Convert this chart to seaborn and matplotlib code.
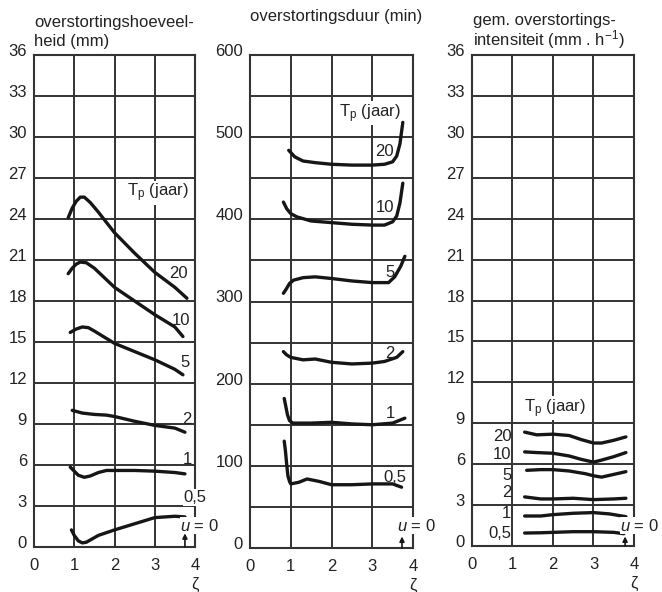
import numpy as np
import pandas as pd
import matplotlib
matplotlib.use("Agg")
import matplotlib.pyplot as plt
import matplotlib.transforms as mtransforms
import seaborn as sns

sns.set_theme(style="white")
plt.rcParams["font.family"] = ["Liberation Sans", "DejaVu Sans"]
plt.rcParams["mathtext.fontset"] = "custom"
plt.rcParams["mathtext.rm"] = "Liberation Sans"
plt.rcParams["mathtext.it"] = "Liberation Sans:italic"

# ---- overstortingshoeveelheid (mm) versus zeta, per herhalingstijd T_p ----
vol_zeta_20 = [0.85, 0.95, 1.05, 1.15, 1.25, 1.4, 1.6, 2.0, 2.5, 3.0, 3.5, 3.8]
vol_mm_20 = [24.1, 24.8, 25.3, 25.6, 25.6, 25.2, 24.5, 23.0, 21.5, 20.1, 19.0, 18.2]
vol_zeta_10 = [0.85, 0.95, 1.05, 1.15, 1.3, 1.5, 2.0, 2.5, 3.0, 3.5, 3.7]
vol_mm_10 = [20.0, 20.4, 20.7, 20.85, 20.8, 20.4, 19.0, 18.0, 17.0, 16.1, 15.4]
vol_zeta_5 = [0.9, 1.05, 1.2, 1.35, 1.5, 2.0, 2.5, 3.0, 3.5, 3.7]
vol_mm_5 = [15.7, 15.95, 16.1, 16.05, 15.8, 14.9, 14.3, 13.7, 13.0, 12.6]
vol_zeta_2 = [0.95, 1.2, 1.5, 1.8, 2.0, 2.5, 3.0, 3.5, 3.75]
vol_mm_2 = [10.0, 9.8, 9.7, 9.65, 9.55, 9.2, 8.9, 8.7, 8.4]
vol_zeta_1 = [0.9, 1.0, 1.1, 1.25, 1.4, 1.6, 1.8, 2.5, 3.0, 3.5, 3.75]
vol_mm_1 = [5.85, 5.55, 5.25, 5.1, 5.2, 5.45, 5.6, 5.6, 5.55, 5.45, 5.35]
vol_zeta_05 = [0.93, 1.0, 1.1, 1.2, 1.3, 1.45, 1.6, 2.0, 2.5, 3.0, 3.5, 3.75]
vol_mm_05 = [1.25, 0.85, 0.45, 0.3, 0.35, 0.6, 0.85, 1.25, 1.7, 2.15, 2.25, 2.2]

# ---- overstortingsduur (min) ----
dur_zeta_20 = [0.95, 1.1, 1.3, 1.6, 2.0, 2.5, 3.0, 3.3, 3.5, 3.6, 3.68, 3.75]
dur_min_20 = [484, 476, 471, 469, 467, 466, 466, 467, 470, 477, 492, 518]
dur_zeta_10 = [0.82, 0.9, 1.0, 1.15, 1.5, 2.0, 2.5, 3.0, 3.3, 3.5, 3.6, 3.68, 3.75]
dur_min_10 = [421, 413, 407, 403, 398, 396, 394, 393, 393, 397, 404, 420, 444]
dur_zeta_5 = [0.82, 0.9, 0.97, 1.07, 1.3, 1.6, 2.0, 2.5, 3.0, 3.4, 3.55, 3.7, 3.8]
dur_min_5 = [310, 316, 322, 326, 329, 330, 328, 325, 323, 323, 330, 343, 355]
dur_zeta_2 = [0.82, 0.9, 1.0, 1.3, 1.6, 2.0, 2.5, 3.0, 3.3, 3.6, 3.75]
dur_min_2 = [239, 235, 232, 229, 230, 226, 224, 225, 227, 232, 239]
dur_zeta_1 = [0.84, 0.88, 0.92, 0.97, 1.05, 1.5, 2.0, 2.5, 3.0, 3.5, 3.8]
dur_min_1 = [182, 172, 162, 155, 152, 152, 153, 151, 150, 152, 158]
dur_zeta_05 = [0.84, 0.87, 0.9, 0.93, 0.97, 1.0, 1.2, 1.4, 1.7, 2.0, 2.5, 3.0, 3.5, 3.72]
dur_min_05 = [130, 118, 102, 88, 81, 78, 80, 84, 81, 77, 77, 78, 78, 74]

# ---- gemiddelde overstortingsintensiteit (mm/h) ----
int_zeta_20 = [1.3, 1.6, 2.0, 2.4, 2.7, 3.0, 3.2, 3.5, 3.8]
int_mmh_20 = [8.35, 8.15, 8.2, 8.1, 7.8, 7.55, 7.55, 7.75, 8.0]
int_zeta_10 = [1.3, 1.6, 2.0, 2.4, 2.7, 3.0, 3.2, 3.5, 3.8]
int_mmh_10 = [6.9, 6.85, 6.8, 6.6, 6.35, 6.15, 6.3, 6.55, 6.85]
int_zeta_5 = [1.35, 1.7, 2.0, 2.4, 2.8, 3.0, 3.2, 3.5, 3.8]
int_mmh_5 = [5.55, 5.6, 5.6, 5.5, 5.3, 5.15, 5.05, 5.25, 5.45]
int_zeta_2 = [1.3, 1.7, 2.0, 2.5, 3.0, 3.5, 3.8]
int_mmh_2 = [3.6, 3.45, 3.45, 3.5, 3.4, 3.45, 3.5]
int_zeta_1 = [1.3, 1.7, 2.0, 2.5, 3.0, 3.4, 3.8]
int_mmh_1 = [2.2, 2.2, 2.3, 2.4, 2.45, 2.35, 2.15]
int_zeta_05 = [1.3, 1.7, 2.0, 2.5, 3.0, 3.5, 3.75]
int_mmh_05 = [0.95, 0.97, 1.0, 1.05, 1.05, 1.0, 0.9]

periods = ["20", "10", "5", "2", "1", "0,5"]
x_ticks = [0, 1, 2, 3, 4]
mm_ticks = list(range(0, 37, 3))
min_ticks = list(range(0, 601, 100))
min_grid = list(range(0, 601, 50))


def long_frame(xs, ys):
    rows = []
    for label, x, y in zip(periods, xs, ys):
        for a, b in zip(x, y):
            rows.append({"T": label, "zeta": a, "value": b})
    return pd.DataFrame(rows)


df_vol = long_frame([vol_zeta_20, vol_zeta_10, vol_zeta_5, vol_zeta_2, vol_zeta_1, vol_zeta_05],
                    [vol_mm_20, vol_mm_10, vol_mm_5, vol_mm_2, vol_mm_1, vol_mm_05])
df_dur = long_frame([dur_zeta_20, dur_zeta_10, dur_zeta_5, dur_zeta_2, dur_zeta_1, dur_zeta_05],
                    [dur_min_20, dur_min_10, dur_min_5, dur_min_2, dur_min_1, dur_min_05])
df_int = long_frame([int_zeta_20, int_zeta_10, int_zeta_5, int_zeta_2, int_zeta_1, int_zeta_05],
                    [int_mmh_20, int_mmh_10, int_mmh_5, int_mmh_2, int_mmh_1, int_mmh_05])

W, H = 662, 592
fig = plt.figure(figsize=(W / 100, H / 100), dpi=100)
fig.patch.set_facecolor("white")


def px_axes(left, top, right, bottom):
    return fig.add_axes([left / W, 1 - bottom / H, (right - left) / W, (bottom - top) / H])


ax1 = px_axes(34, 55, 195, 547)
ax2 = px_axes(250, 55, 413, 548)
ax3 = px_axes(472, 55, 634, 546)

GRID = "#333333"
INK = "#161616"
TXT = "#222222"
FS = 12
white_box = dict(facecolor="white", edgecolor="none", pad=0.6)

for ax, df, yt, ymax in [(ax1, df_vol, mm_ticks, 36), (ax2, df_dur, min_ticks, 600), (ax3, df_int, mm_ticks, 36)]:
    sns.lineplot(data=df, x="zeta", y="value", units="T", estimator=None, sort=True,
                 color=INK, lw=2.4, ax=ax, legend=False, zorder=4)
    ax.set_xlim(0, 4)
    ax.set_ylim(0, ymax)
    ax.set_xticks(x_ticks)
    ax.set_yticks(yt)
    ax.set_xlabel("")
    ax.set_ylabel("")
    ax.grid(True, which="both", color=GRID, lw=1.4)
    ax.set_axisbelow(True)
    for s in ax.spines.values():
        s.set_visible(True)
        s.set_color(GRID)
        s.set_linewidth(1.5)
        s.set_zorder(2.5)
    ax.tick_params(length=0, labelsize=FS, colors=TXT)
    ax.tick_params(axis="y", pad=5)
    ax.tick_params(axis="x", pad=8)
    shift = mtransforms.ScaledTranslation(0, 5 / 100, fig.dpi_scale_trans)
    for tick in ax.yaxis.get_major_ticks():
        tick.label1.set_transform(tick.label1.get_transform() + shift)
    ax.annotate("ζ", xy=(4, 0), xycoords="data", xytext=(0, -37), textcoords="offset pixels",
                ha="center", va="center", fontsize=FS, color=TXT, annotation_clip=False)

ax2.set_yticks(min_grid, minor=True)
ax2.tick_params(which="minor", length=0)

# curve labels
tp = "T$_\\mathregular{p}$ (jaar)"
ax1.text(3.08, 25.9, tp, ha="center", va="center", fontsize=FS, color=TXT, bbox=white_box, zorder=5)
for s, x, y in [("20", 3.6, 20.0), ("10", 3.65, 16.6), ("5", 3.75, 13.5), ("2", 3.8, 9.3), ("1", 3.8, 6.4)]:
    ax1.text(x, y, s, ha="center", va="center", fontsize=FS, color=TXT, zorder=5)
ax1.text(4.0, 3.6, "0,5", ha="center", va="center", fontsize=FS, color=TXT, bbox=white_box, zorder=5, clip_on=False)

ax2.text(2.94, 529, tp, ha="center", va="center", fontsize=FS, color=TXT, bbox=white_box, zorder=5)
for s, x, y in [("20", 3.3, 482), ("10", 3.31, 415), ("5", 3.44, 335), ("2", 3.44, 237), ("1", 3.44, 164), ("0,5", 3.56, 86)]:
    ax2.text(x, y, s, ha="center", va="center", fontsize=FS, color=TXT, zorder=5)

ax3.text(2.05, 10.1, tp, ha="center", va="center", fontsize=FS, color=TXT, bbox=white_box, zorder=5)
for s, y in [("20", 8.0), ("10", 6.7), ("5", 5.2), ("2", 3.9), ("1", 2.35), ("0,5", 0.95)]:
    ax3.text(0.97, y, s, ha="right", va="center", fontsize=FS, color=TXT, zorder=5)

# u = 0 marker with arrow
for ax, xu, yu, ya in [(ax1, 3.75, 1.55, 1.0), (ax2, 3.73, 27, 14), (ax3, 3.78, 1.5, 0.7)]:
    ax.annotate("", xy=(xu, ya), xytext=(xu, 0), annotation_clip=False,
                arrowprops=dict(arrowstyle="-|>", lw=1.2, color=INK, mutation_scale=7, shrinkA=0, shrinkB=0))
    ax.text(xu - 0.12, yu, "$\\mathit{u}$ = 0", ha="left", va="center", fontsize=FS, color=TXT,
            bbox=dict(facecolor="white", edgecolor="none", pad=0.3), zorder=5, clip_on=False)

# panel titles
fig.text(34 / W, 1 - 27 / H, "overstortingshoeveel-", fontsize=FS, va="baseline", color=TXT)
fig.text(34 / W, 1 - 46 / H, "heid (mm)", fontsize=FS, va="baseline", color=TXT)
fig.text(250 / W, 1 - 21 / H, "overstortingsduur (min)", fontsize=FS, va="baseline", color=TXT)
fig.text(473 / W, 1 - 25 / H, "gem. overstortings-", fontsize=FS, va="baseline", color=TXT)
fig.text(473 / W, 1 - 45 / H, "intensiteit (mm . h$^{-1}$)", fontsize=FS, va="baseline", color=TXT)

fig.savefig("out.png", dpi=100, facecolor="white")
